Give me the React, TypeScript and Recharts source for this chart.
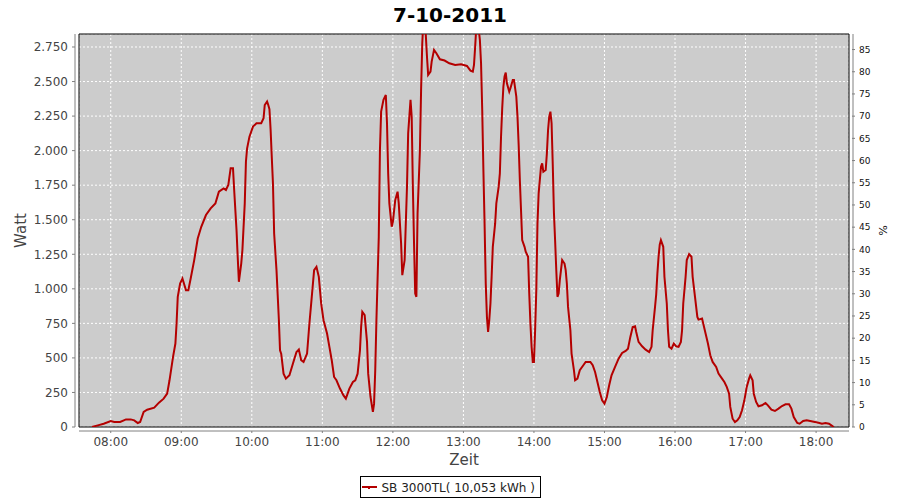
import React from "react";
import {
  CartesianGrid,
  Line,
  LineChart,
  ReferenceArea,
  ReferenceLine,
  XAxis,
  YAxis,
} from "recharts";

const FONT = "'DejaVu Sans', sans-serif";
const LINE_COLOR = "#b40000";

// sample times (HH:MM), one line per hour
const TIMES = [
  "07:44", "07:49", "07:54",
  "08:00", "08:03", "08:08", "08:13", "08:17", "08:20", "08:23", "08:25", "08:28", "08:31",
  "08:37", "08:41", "08:45", "08:48", "08:50", "08:53", "08:55", "08:56", "08:57", "08:59",
  "09:01", "09:04", "09:06", "09:08", "09:11", "09:14", "09:17", "09:21", "09:25", "09:29", "09:32", "09:36", "09:38",
  "09:40", "09:42", "09:44", "09:45", "09:47", "09:48", "09:49", "09:51", "09:52", "09:54", "09:55", "09:56", "09:58",
  "10:01", "10:04", "10:08", "10:10", "10:11", "10:13", "10:14", "10:15", "10:16", "10:17", "10:18", "10:19", "10:21",
  "10:23", "10:24", "10:25", "10:27", "10:29", "10:32", "10:35", "10:38", "10:40", "10:42", "10:44", "10:47", "10:49",
  "10:51", "10:53", "10:55", "10:57", "10:59",
  "11:01", "11:04", "11:06", "11:08", "11:10", "11:12", "11:15", "11:18", "11:20", "11:23", "11:26", "11:28", "11:30",
  "11:32", "11:33", "11:34", "11:36", "11:38", "11:39", "11:41", "11:43", "11:44", "11:45", "11:46", "11:48", "11:49",
  "11:50", "11:52", "11:54", "11:55", "11:56", "11:57", "11:59",
  "12:00", "12:02", "12:04", "12:05", "12:07", "12:08", "12:10", "12:12", "12:13", "12:15", "12:16", "12:17", "12:18",
  "12:19", "12:20", "12:21", "12:23", "12:24", "12:25", "12:26", "12:28", "12:29", "12:30", "12:32", "12:33", "12:35",
  "12:37", "12:40", "12:44", "12:48", "12:53", "12:58",
  "13:03", "13:06", "13:08", "13:09", "13:10", "13:11", "13:13", "13:14", "13:15", "13:16", "13:17", "13:18", "13:19",
  "13:20", "13:21", "13:22", "13:23", "13:24", "13:25", "13:27", "13:28", "13:30", "13:31", "13:32", "13:33", "13:34",
  "13:35", "13:36", "13:37", "13:39", "13:40", "13:42", "13:43", "13:45", "13:46", "13:47", "13:48", "13:49", "13:50",
  "13:52", "13:53", "13:55", "13:56", "13:57", "13:58", "13:59",
  "14:00", "14:01", "14:02", "14:03", "14:04", "14:06", "14:07", "14:08", "14:10", "14:11", "14:12", "14:13", "14:14",
  "14:15", "14:16", "14:17", "14:18", "14:19", "14:20", "14:21", "14:22", "14:23", "14:24", "14:26", "14:27", "14:28",
  "14:29", "14:31", "14:32", "14:34", "14:35", "14:37", "14:39", "14:42", "14:44", "14:48", "14:50", "14:52", "14:54",
  "14:56", "14:58",
  "15:00", "15:02", "15:04", "15:06", "15:09", "15:12", "15:15", "15:18", "15:20", "15:22", "15:24", "15:26", "15:27",
  "15:29", "15:32", "15:35", "15:38", "15:40", "15:41", "15:43", "15:44", "15:45", "15:46", "15:47", "15:48", "15:50",
  "15:51", "15:53", "15:54", "15:55", "15:57", "15:59",
  "16:01", "16:03", "16:05", "16:06", "16:07", "16:09", "16:10", "16:12", "16:14", "16:15", "16:17", "16:19", "16:20",
  "16:23", "16:24", "16:26", "16:28", "16:30", "16:32", "16:35", "16:37", "16:40", "16:42", "16:44", "16:46", "16:47",
  "16:49", "16:51", "16:53", "16:55", "16:57", "16:59",
  "17:01", "17:03", "17:04", "17:06", "17:07", "17:09", "17:11", "17:14", "17:17", "17:19", "17:22", "17:25", "17:28",
  "17:31", "17:34", "17:37", "17:39", "17:41", "17:44", "17:46", "17:49", "17:52", "17:56", "17:59",
  "18:02", "18:05", "18:08", "18:11", "18:13", "18:15",
];

// power in watt, same order as TIMES
const WATTS = [
  0, 12, 24,
  43, 36, 36, 55, 55, 48, 29, 36, 109, 125,
  140, 176, 205, 241, 338, 507, 604, 749, 942, 1038,
  1075, 990, 990, 1075, 1208, 1364, 1449, 1534, 1582, 1618, 1703, 1727, 1715,
  1751, 1872, 1872, 1715, 1425, 1232, 1051, 1183, 1280, 1618, 1920, 2017, 2101,
  2174, 2198, 2198, 2234, 2330, 2355, 2330, 2300, 2150, 1950, 1760, 1400, 1135,
  780, 555, 531, 386, 350, 374, 459, 543, 560, 483, 471, 531, 749,
  942, 1135, 1159, 1087, 894,
  773, 676, 580, 483, 362, 338, 278, 229, 205, 278, 326, 338, 386,
  555, 725, 833, 809, 616, 386, 217, 109, 169, 411, 773, 1376, 2004,
  2282, 2367, 2403, 2198, 1835, 1618, 1449,
  1485, 1642, 1703, 1618, 1328, 1099, 1208, 1739, 2125, 2367, 2246, 1739, 1328,
  966, 942, 1546, 2004, 2439, 2777, 2950, 2838, 2681, 2548, 2572, 2644, 2729,
  2705, 2661, 2652, 2632, 2620, 2625,
  2613, 2579, 2572, 2620, 2753, 2900, 2880, 2801, 2632, 2294, 1860, 1473, 1038,
  797, 688, 773, 894, 1087, 1304, 1473, 1618, 1739, 1835, 2101, 2306, 2463,
  2536, 2565, 2487, 2427, 2451, 2512, 2512, 2391, 2246, 2041, 1787, 1570, 1352,
  1304, 1268, 1232, 966, 749, 580, 471,
  471, 700, 990, 1473, 1691, 1884, 1908, 1847, 1860, 1980, 2149, 2246, 2282,
  2198, 1900, 1550, 1350, 1135, 942, 966, 1063, 1135, 1208, 1183, 1135, 1038,
  869, 700, 531, 411, 338, 350, 411, 447, 471, 471, 447, 398, 326,
  254, 193,
  169, 217, 302, 374, 435, 495, 536, 551, 567, 652, 724, 729, 688,
  616, 584, 560, 543, 580, 700, 869, 960, 1110, 1232, 1320, 1352, 1304,
  1087, 894, 700, 580, 567, 604,
  584, 580, 616, 700, 894, 1087, 1208, 1251, 1232, 1087, 942, 797, 777,
  785, 749, 676, 604, 519, 471, 435, 386, 350, 326, 290, 241, 145,
  60, 36, 48, 72, 121, 193,
  290, 350, 374, 338, 241, 181, 150, 157, 174, 157, 126, 116, 133,
  152, 164, 164, 133, 72, 29, 24, 43, 48, 41, 36,
  31, 24, 29, 24, 12, 0,
];

const HOUR_TICKS = ["08:00", "09:00", "10:00", "11:00", "12:00", "13:00", "14:00", "15:00", "16:00", "17:00", "18:00"];
const WATT_TICKS = [0, 250, 500, 750, 1000, 1250, 1500, 1750, 2000, 2250, 2500, 2750];
const PCT_TICKS = [0, 5, 10, 15, 20, 25, 30, 35, 40, 45, 50, 55, 60, 65, 70, 75, 80, 85];

const TITLE = "7-10-2011";
const SERIES_NAME = "SB 3000TL( 10,053 kWh )";

const toMin = (s: string) => {
  const [h, m] = s.split(":").map(Number);
  return h * 60 + m;
};
const fmtTime = (v: number) => {
  const h = Math.floor(v / 60);
  const m = Math.round(v % 60);
  return `${String(h).padStart(2, "0")}:${String(m).padStart(2, "0")}`;
};
const fmtWatt = (v: number) => String(v).replace(/\B(?=(\d{3})+(?!\d))/g, ".");

const data = TIMES.slice(0, Math.min(TIMES.length, WATTS.length)).map((t, i) => ({
  t: toMin(t),
  w: WATTS[i],
}));

const X_MIN = 453;
const X_MAX = 1108;
const W_MAX = 2844;
const P_MAX = 88.5;

const PLOT_W = 770;
const PLOT_H = 393;
// JFreeChart draws the axis lines 4px away from the plot
const X_GAP = (4 * (X_MAX - X_MIN)) / PLOT_W;
const Y_GAP = (4 * W_MAX) / PLOT_H;

const LeftTick = ({ x, y, payload }: any) => (
  <g>
    <line x1={x + 4} x2={x + 7} y1={y} y2={y} stroke="#808080" />
    <text x={x} y={y} dy="0.36em" textAnchor="end" fill="#444" fontSize={12} fontFamily={FONT}>
      {fmtWatt(payload.value)}
    </text>
  </g>
);

const RightTick = ({ x, y, payload }: any) => (
  <g>
    <line x1={x - 7} x2={x - 4} y1={y} y2={y} stroke="#808080" />
    <text x={x} y={y} dy="0.36em" textAnchor="start" fill="#111" fontSize={9} fontFamily={FONT}>
      {payload.value}
    </text>
  </g>
);

const BottomTick = ({ x, y, payload }: any) => (
  <g>
    <line x1={x} x2={x} y1={y - 6} y2={y - 4} stroke="#808080" />
    <text x={x} y={y} dy="0.73em" textAnchor="middle" fill="#444" fontSize={12} fontFamily={FONT}>
      {fmtTime(payload.value)}
    </text>
  </g>
);

export default function App() {
  return (
    <div style={{ position: "absolute", left: 0, top: 0, width: 900, height: 500, background: "#fff" }}>
      <LineChart
        width={900}
        height={500}
        data={data}
        margin={{ top: 34, right: 0, bottom: 33, left: 0 }}
      >
        <CartesianGrid
          yAxisId="left"
          stroke="#ffffff"
          strokeDasharray="2 2"
          fill="#cccccc"
          fillOpacity={1}
        />
        <XAxis
          dataKey="t"
          type="number"
          domain={[X_MIN, X_MAX]}
          ticks={HOUR_TICKS.map(toMin)}
          height={40}
          axisLine={false}
          tickLine={false}
          tickSize={0}
          tickMargin={10}
          tick={<BottomTick />}
          label={{
            value: "Zeit",
            position: "insideBottom",
            offset: 2,
            fill: "#444",
            fontSize: 15,
            fontFamily: FONT,
          }}
        />
        <YAxis
          yAxisId="left"
          type="number"
          domain={[0, W_MAX]}
          ticks={WATT_TICKS}
          allowDataOverflow
          width={79}
          axisLine={false}
          tickLine={false}
          tickSize={0}
          tickMargin={11}
          tick={<LeftTick />}
          label={{
            value: "Watt",
            angle: -90,
            position: "insideLeft",
            offset: 21,
            fill: "#444",
            fontSize: 15,
            fontFamily: FONT,
            style: { textAnchor: "middle" },
          }}
        />
        <YAxis
          yAxisId="right"
          orientation="right"
          type="number"
          domain={[0, P_MAX]}
          ticks={PCT_TICKS}
          allowDataOverflow
          interval={0}
          width={51}
          axisLine={false}
          tickLine={false}
          tickSize={0}
          tickMargin={10}
          tick={<RightTick />}
          label={{
            value: "%",
            angle: 90,
            position: "insideRight",
            offset: 17,
            fill: "#111",
            fontSize: 11,
            fontFamily: FONT,
            style: { textAnchor: "middle" },
          }}
        />
        <ReferenceLine yAxisId="left" x={X_MIN - X_GAP} stroke="#808080" ifOverflow="visible" />
        <ReferenceLine yAxisId="left" x={X_MAX + X_GAP} stroke="#808080" ifOverflow="visible" />
        <ReferenceLine yAxisId="left" y={-Y_GAP} stroke="#808080" ifOverflow="visible" />
        <Line
          yAxisId="left"
          type="linear"
          dataKey="w"
          stroke={LINE_COLOR}
          strokeWidth={2}
          dot={false}
          activeDot={false}
          isAnimationActive={false}
        />
        <ReferenceArea
          yAxisId="left"
          x1={X_MIN}
          x2={X_MAX}
          y1={0}
          y2={W_MAX}
          fill="none"
          stroke="#000000"
          strokeWidth={1}
        />
      </LineChart>
      <svg
        width={900}
        height={500}
        style={{ position: "absolute", left: 0, top: 0, pointerEvents: "none" }}
      >
        <text x={450} y={21.5} textAnchor="middle" fontSize={20} fontWeight="bold" fontFamily={FONT} fill="#000">
          {TITLE}
        </text>
        <rect x={360.5} y={476.5} width={180} height={21} fill="#fff" stroke="#000" />
        <line x1={362} x2={377} y1={487} y2={487} stroke={LINE_COLOR} strokeWidth={2} />
        <rect x={368} y={487} width={2} height={2} fill={LINE_COLOR} />
        <text x={381.5} y={491.5} fontSize={12} fontFamily={FONT} fill="#222">
          {SERIES_NAME}
        </text>
      </svg>
    </div>
  );
}
